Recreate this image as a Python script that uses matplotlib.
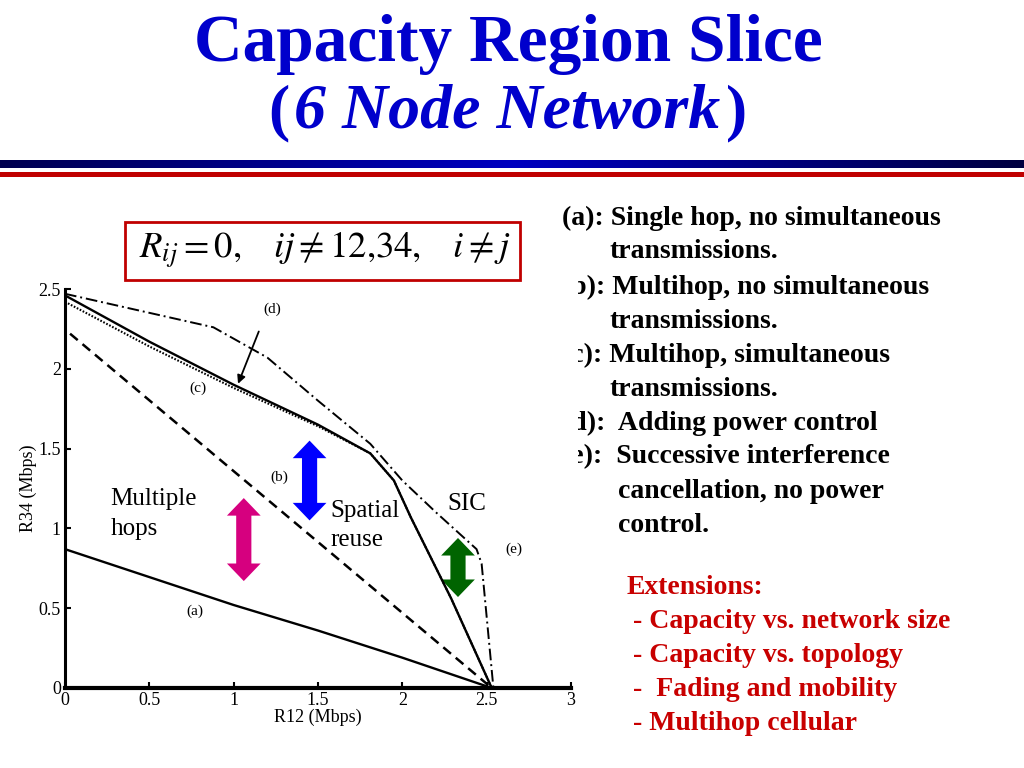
import matplotlib.pyplot as plt
import matplotlib.patches as mpatches
from matplotlib.colors import LinearSegmentedColormap
import numpy as np

# curve data (R12, R34 in Mbps)
a_x = [0, 1.0, 1.5, 2.0, 2.53]
a_y = [0.87, 0.52, 0.36, 0.19, 0.0]
b_x = [0.03, 2.53]
b_y = [2.22, 0.0]
c_x = [0, 0.5, 1.0, 1.5, 1.81, 1.95, 2.05, 2.29, 2.53]
c_y = [2.42, 2.14, 1.88, 1.64, 1.47, 1.30, 1.07, 0.56, 0.0]
d_x = [0, 0.5, 1.0, 1.5, 1.81, 1.95, 2.05, 2.29, 2.53]
d_y = [2.46, 2.17, 1.90, 1.65, 1.47, 1.30, 1.07, 0.56, 0.0]
e_x = [0, 0.88, 1.2, 1.5, 1.81, 2.0, 2.2, 2.44, 2.47, 2.54]
e_y = [2.47, 2.26, 2.07, 1.80, 1.53, 1.30, 1.10, 0.87, 0.78, 0.0]

xticks = [0, 0.5, 1, 1.5, 2, 2.5, 3]
xticklabels = ['0', '0.5', '1', '1.5', '2', '2.5', '3']
yticks = [0, 0.5, 1, 1.5, 2, 2.5]
yticklabels = ['0', '0.5', '1', '1.5', '2', '2.5']

curve_labels = ['(a)', '(b)', '(c)', '(d)', '(e)']
curve_label_pos = [(0.77, 0.48), (1.27, 1.32), (0.79, 1.88), (1.23, 2.37), (2.66, 0.87)]

# double arrows: x, y bottom, y top, colour
arrows = [(1.06, 0.67, 1.19, '#d6007f'),
          (1.45, 1.05, 1.55, '#0000ff'),
          (2.33, 0.57, 0.94, '#006400')]

desc_lines = [
    (562, 218, '(a): Single hop, no simultaneous'),
    (610, 252, 'transmissions.'),
    (562, 287, '(b): Multihop, no simultaneous'),
    (610, 321, 'transmissions.'),
    (562, 355, '(c): Multihop, simultaneous'),
    (610, 389, 'transmissions.'),
    (562, 423, '(d):  Adding power control'),
    (562, 457, '(e):  Successive interference'),
    (618, 491, 'cancellation, no power'),
    (618, 525, 'control.'),
]
ext_lines = [
    (627, 587, 'Extensions:'),
    (633, 622, '- Capacity vs. network size'),
    (633, 656, '- Capacity vs. topology'),
    (633, 690, '-  Fading and mobility'),
    (633, 724, '- Multihop cellular'),
]

W, H = 1024, 768
def fx(p):
    return p / W
def fy(p):
    return 1 - p / H

plt.rcParams['mathtext.fontset'] = 'stix'
serif = 'Liberation Serif'
blue = '#0000cc'

fig = plt.figure(figsize=(10.24, 7.68), dpi=100, facecolor='white')
renderer = fig.canvas.get_renderer()

# title
fig.text(fx(508), fy(61), 'Capacity Region Slice', ha='center', va='baseline',
         fontsize=48.5, fontweight='bold', family=serif, color=blue)
xpos = 268
for piece, style in [('(', 'normal'), ('6 Node Network', 'italic'), (')', 'normal')]:
    t = fig.text(fx(xpos), fy(128), piece, ha='left', va='baseline', fontsize=46,
                 fontweight='bold', fontstyle=style, family=serif, color=blue)
    xpos = t.get_window_extent(renderer).x1 + (5 if style == 'normal' else 6)

# header bars
bar = fig.add_axes([0, fy(168), 1, 8 / H])
grad = np.linspace(0, 1, 256)
bar.imshow(np.vstack([grad, grad]), aspect='auto',
           cmap=LinearSegmentedColormap.from_list('hdr', ['#000050', '#0000c0', '#000040']))
bar.set_axis_off()
red = fig.add_axes([0, fy(177), 1, 5 / H])
red.set_facecolor('#c00000')
red.set_xticks([])
red.set_yticks([])
for s in red.spines.values():
    s.set_visible(False)

# formula box
fig.patches.append(mpatches.Rectangle((fx(125), fy(280)), fx(395), 58 / H, transform=fig.transFigure,
                                      fill=False, edgecolor='#c00000', linewidth=2))
fig.text(fx(325), fy(250), r'$R_{ij}=0,\quad ij\neq 12{,}34,\quad i\neq j$', ha='center', va='center',
         fontsize=26.5)

# main plot
ax = fig.add_axes([fx(65), fy(688), fx(506), 399 / H])
ax.plot(a_x, a_y, color='black', lw=1.7)
ax.plot(b_x, b_y, color='black', lw=1.8, ls=(0, (4, 2.5)))
ax.plot(c_x, c_y, color='black', lw=1.5, ls=(0, (0.8, 0.8)))
ax.plot(d_x, d_y, color='black', lw=1.7)
ax.plot(e_x, e_y, color='black', lw=1.4, ls=(0, (6, 2, 1, 2)))

for lab, (px, py) in zip(curve_labels, curve_label_pos):
    ax.text(px, py, lab, ha='center', va='center', fontsize=11, family=serif)

ax.annotate('', xy=(1.02, 1.89), xytext=(1.155, 2.25),
            arrowprops=dict(arrowstyle='-|>', color='black', lw=1.3, mutation_scale=12))

# fat double-headed arrows
sw, hw, hl = 0.045, 0.1, 0.11
for x, y0, y1, col in arrows:
    px = [x, x + hw, x + sw, x + sw, x + hw, x, x - hw, x - sw, x - sw, x - hw]
    py = [y1, y1 - hl, y1 - hl, y0 + hl, y0 + hl, y0, y0 + hl, y0 + hl, y1 - hl, y1 - hl]
    ax.add_patch(mpatches.Polygon(np.column_stack([px, py]), closed=True, facecolor=col,
                                  edgecolor='none'))

ax.text(0.27, 1.25, 'Multiple\nhops', ha='left', va='top', fontsize=18, family=serif, linespacing=1.45)
ax.text(1.575, 1.18, 'Spatial\nreuse', ha='left', va='top', fontsize=18, family=serif, linespacing=1.45)
ax.text(2.27, 1.22, 'SIC', ha='left', va='top', fontsize=18, family=serif)

ax.set_xlim(0, 3)
ax.set_ylim(0, 2.5)
ax.set_xticks(xticks)
ax.set_xticklabels(xticklabels)
ax.set_yticks(yticks)
ax.set_yticklabels(yticklabels)
ax.tick_params(direction='in', length=4, width=1.5, labelsize=13, pad=3)
for lbl in ax.get_xticklabels() + ax.get_yticklabels():
    lbl.set_family(serif)
ax.spines['top'].set_visible(False)
ax.spines['right'].set_visible(False)
ax.spines['left'].set_linewidth(2.2)
ax.spines['bottom'].set_linewidth(3)
ax.set_xlabel('R12 (Mbps)', family=serif, fontsize=13, labelpad=0)
ax.set_ylabel('R34 (Mbps)', family=serif, fontsize=13, labelpad=1)
ax.patch.set_alpha(0)

# description text
for px, py, s in desc_lines:
    fig.text(fx(px), fy(py), s, ha='left', va='center', fontsize=20, fontweight='bold',
             family=serif, color='black')
for px, py, s in ext_lines:
    fig.text(fx(px), fy(py), s, ha='left', va='center', fontsize=20, fontweight='bold',
             family=serif, color='#c80000')

# the plot picture hides the left part of the labels (b)-(e)
fig.patches.append(mpatches.Rectangle((fx(540), fy(470)), fx(38), 198 / H, transform=fig.transFigure,
                                      facecolor='white', edgecolor='none', zorder=5))

fig.savefig('out.png', dpi=100)
